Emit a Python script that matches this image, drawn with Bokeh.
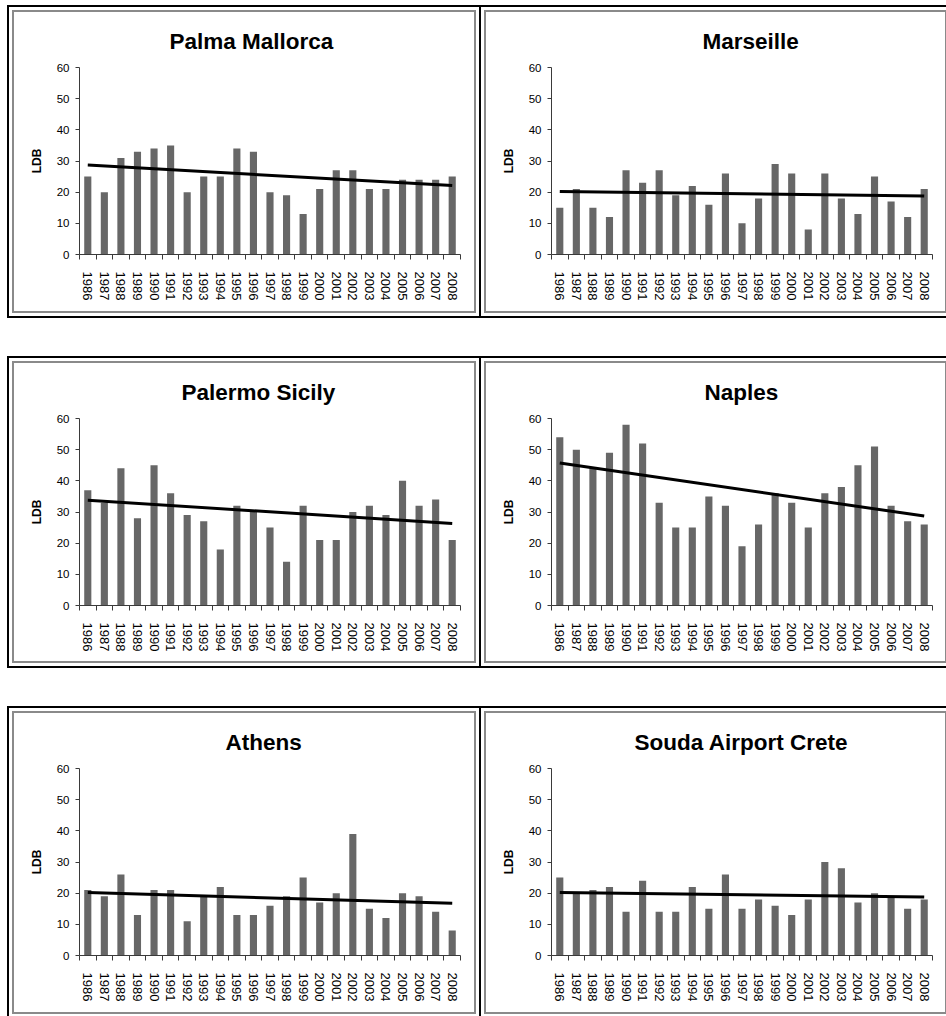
from bokeh.plotting import figure
from bokeh.layouts import row, column
from bokeh.models import Range1d, FixedTicker, Spacer
from bokeh.embed import file_html
from bokeh.resources import INLINE

# ---------------- data ----------------
years = ["1986", "1987", "1988", "1989", "1990", "1991", "1992", "1993", "1994",
         "1995", "1996", "1997", "1998", "1999", "2000", "2001", "2002", "2003",
         "2004", "2005", "2006", "2007", "2008"]

titles = ["Palma Mallorca", "Marseille", "Palermo Sicily", "Naples", "Athens",
          "Souda Airport Crete"]

palma = [25, 20, 31, 33, 34, 35, 20, 25, 25, 34, 33, 20, 19, 13, 21, 27, 27, 21, 21, 24, 24, 24, 25]
marseille = [15, 21, 15, 12, 27, 23, 27, 19, 22, 16, 26, 10, 18, 29, 26, 8, 26, 18, 13, 25, 17, 12, 21]
palermo = [37, 33, 44, 28, 45, 36, 29, 27, 18, 32, 30, 25, 14, 32, 21, 21, 30, 32, 29, 40, 32, 34, 21]
naples = [54, 50, 44, 49, 58, 52, 33, 25, 25, 35, 32, 19, 26, 36, 33, 25, 36, 38, 45, 51, 32, 27, 26]
athens = [21, 19, 26, 13, 21, 21, 11, 19, 22, 13, 13, 16, 19, 25, 17, 20, 39, 15, 12, 20, 19, 14, 8]
souda = [25, 20, 21, 22, 14, 24, 14, 14, 22, 15, 26, 15, 18, 16, 13, 18, 30, 28, 17, 20, 19, 15, 18]

series = [palma, marseille, palermo, naples, athens, souda]

# linear trend line values read at first and last year
trend_start = [28.7, 20.2, 33.8, 45.7, 20.2, 20.2]
trend_end = [22.1, 18.8, 26.3, 28.7, 16.8, 18.8]

y_ticks = [0, 10, 20, 30, 40, 50, 60]
y_label = "LDB"

# ---------------- styles ----------------
FONT = "Liberation Sans"
BAR_COLOR = "#676767"
panel_widths = [460, 459]
row_heights = [299, 298, 299]
title_left = [90, 151, 102, 153, 146, 83]   # title left edge, px from plot-area left
FRAME_TOP = 55
FRAME_H = 187
LEFT = 65
FRAME_W = 381

panel_css = {
    "box-shadow": "0 0 0 2px #8a8a8a",
    "outline": "2px solid #000000",
    "outline-offset": "5px",
}


def make_panel(k, width, height):
    vals = series[k]
    n = len(vals)
    p = figure(width=width, height=height,
               x_range=Range1d(-0.5, n - 0.5), y_range=Range1d(0, 60),
               output_backend="svg", toolbar_location=None,
               min_border_left=LEFT, min_border_right=width - LEFT - FRAME_W,
               min_border_top=FRAME_TOP, min_border_bottom=height - FRAME_TOP - FRAME_H,
               background_fill_color="white", border_fill_color="white",
               styles=panel_css)
    p.outline_line_color = None
    p.xgrid.visible = False
    p.ygrid.visible = False

    p.title.text = titles[k]
    p.title.align = "left"
    p.title.offset = title_left[k]
    p.title.text_font = FONT
    p.title.text_font_style = "bold"
    p.title.text_font_size = "22.5px"
    p.title.text_color = "black"
    p.title.standoff = 28

    idx = list(range(n))
    p.vbar(x=idx, top=vals, bottom=0, width=0.43, fill_color=BAR_COLOR, line_color=None)
    p.line(x=[idx[0], idx[-1]], y=[trend_start[k], trend_end[k]], line_color="black",
           line_width=3)

    # y axis
    ya = p.yaxis[0]
    ya.ticker = FixedTicker(ticks=y_ticks)
    ya.minor_tick_line_color = None
    ya.major_tick_out = 4
    ya.major_tick_in = 0
    ya.major_label_standoff = 6
    ya.major_label_text_font = FONT
    ya.major_label_text_font_size = "11.5px"
    ya.major_label_text_color = "black"
    ya.axis_line_color = "#3a3a3a"
    ya.major_tick_line_color = "#3a3a3a"
    ya.axis_label = y_label
    ya.axis_label_text_font = FONT
    ya.axis_label_text_font_style = "bold"
    ya.axis_label_text_font_size = "12px"
    ya.axis_label_text_color = "black"
    ya.axis_label_standoff = 10

    # x axis: labels at category centres, ticks at category boundaries
    xa = p.xaxis[0]
    xa.ticker = FixedTicker(ticks=idx, minor_ticks=[i - 0.5 for i in range(n + 1)])
    xa.major_label_overrides = {i: years[i] for i in idx}
    xa.major_tick_out = 0
    xa.major_tick_in = 0
    xa.major_tick_line_color = None
    xa.minor_tick_out = 5
    xa.minor_tick_in = 0
    xa.minor_tick_line_color = "#3a3a3a"
    xa.axis_line_color = "#3a3a3a"
    xa.major_label_orientation = "vertical"
    xa.major_label_standoff = 12
    xa.major_label_text_font = FONT
    xa.major_label_text_font_size = "13px"
    xa.major_label_text_color = "black"
    return p


items = [Spacer(height=12)]
for r in range(3):
    panels = [make_panel(2 * r + c, panel_widths[c], row_heights[r]) for c in range(2)]
    items.append(row(Spacer(width=14), panels[0], Spacer(width=12), panels[1]))
    if r < 2:
        items.append(Spacer(height=52))

layout = column(*items)

open("out.html", "w").write(file_html(layout, INLINE))
